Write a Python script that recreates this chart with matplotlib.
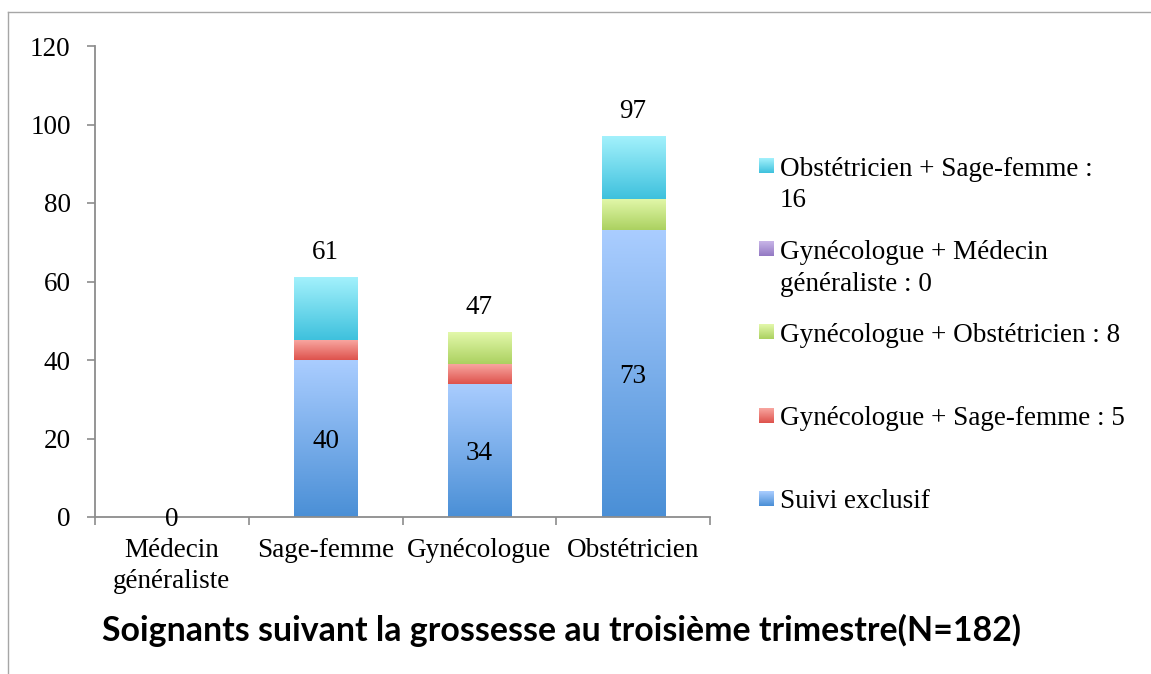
import numpy as np
import matplotlib
matplotlib.use("Agg")
import matplotlib.pyplot as plt
from matplotlib.colors import LinearSegmentedColormap
from matplotlib.lines import Line2D

plt.rcParams['font.family'] = ['Liberation Serif', 'DejaVu Serif']
plt.rcParams['font.size'] = 19.5

categories = ["Médecin\ngénéraliste", "Sage-femme", "Gynécologue", "Obstétricien"]
suivi_exclusif = [0, 40, 34, 73]
gyneco_sagefemme = [0, 5, 5, 0]
gyneco_obstetricien = [0, 0, 8, 8]
gyneco_medecin = [0, 0, 0, 0]
obstetricien_sagefemme = [0, 16, 0, 16]
series = [suivi_exclusif, gyneco_sagefemme, gyneco_obstetricien,
          gyneco_medecin, obstetricien_sagefemme]
series_names = ["Suivi exclusif",
                "Gynécologue + Sage-femme : 5",
                "Gynécologue + Obstétricien : 8",
                "Gynécologue + Médecin\ngénéraliste : 0",
                "Obstétricien + Sage-femme :\n16"]
top_colors = ["#aacdff", "#f8a6a0", "#e3f8ab", "#ccb9ea", "#a3f1fc"]
bottom_colors = ["#4a8fd6", "#de524c", "#abd160", "#9379c3", "#3ec1dd"]
title = "Soignants suivant la grossesse au troisième trimestre(N=182)"

W, H = 1151, 674
def fx(x):
    return x / W
def fy(y):
    return 1 - y / H

fig = plt.figure(figsize=(W / 100, H / 100), dpi=100)
ax = fig.add_axes([fx(95), fy(517), (710 - 95) / W, (517 - 46) / H])

x = np.arange(len(categories))
bw = 0.41
bottom = np.zeros(len(categories))
for vals, c0, c1 in zip(series, bottom_colors, top_colors):
    cmap = LinearSegmentedColormap.from_list("g", [c0, c1])
    bars = ax.bar(x, vals, bw, bottom=bottom, color='none', edgecolor='none')
    for b in bars:
        if b.get_height() <= 0:
            continue
        x0, y0 = b.get_x(), b.get_y()
        grad = np.linspace(0, 1, 256).reshape(-1, 1)
        ax.imshow(grad, extent=[x0, x0 + b.get_width(), y0, y0 + b.get_height()],
                  origin='lower', cmap=cmap, aspect='auto', zorder=2)
    bottom = bottom + np.array(vals)

totals = bottom
for xi, v in zip(x, suivi_exclusif):
    ax.text(xi, v / 2, str(v), ha='center', va='center_baseline', zorder=5)
for xi, t in zip(x, totals):
    if t > 0:
        ax.annotate(str(int(t)), (xi, t), xytext=(0, 20), textcoords='offset points',
                    ha='center', va='center_baseline')

ax.set_xlim(-0.5, len(categories) - 0.5)
ax.set_ylim(0, 120)
ax.set_yticks(np.arange(0, 121, 20))
ax.set_xticks(np.arange(-0.5, len(categories), 1))
ax.set_xticklabels([])
ax.set_xticks(x, minor=True)
ax.set_xticklabels(categories, minor=True, linespacing=1.3)
ax.tick_params(axis='x', which='minor', length=0, pad=15)
ax.tick_params(which='major', direction='out', length=5.5, width=1.2, color='#8c8c8c')
ax.tick_params(axis='y', pad=12)
for s in ['top', 'right']:
    ax.spines[s].set_visible(False)
for s in ['left', 'bottom']:
    ax.spines[s].set_color('#8c8c8c')
    ax.spines[s].set_linewidth(1.3)

# legend drawn by hand, reversed order
for i, (name, c0, c1) in enumerate(reversed(list(zip(series_names, bottom_colors, top_colors)))):
    cy = 165.5 + 83.2 * i
    cmap = LinearSegmentedColormap.from_list("g", [c0, c1])
    lax = fig.add_axes([fx(759), fy(cy + 7.5), 15 / W, 15 / H])
    lax.imshow(np.linspace(0, 1, 64).reshape(-1, 1), origin='lower', cmap=cmap, aspect='auto')
    lax.axis('off')
    for j, line in enumerate(name.split("\n")):
        fig.text(fx(780), fy(cy + 10 + 32 * j), line, va='baseline', ha='left')

fig.text(fx(562), fy(630), title, ha='center', va='center', fontsize=24.4,
         fontweight='bold', family=['Lato', 'DejaVu Sans'])

fig.add_artist(Line2D([fx(8), 1], [fy(12), fy(12)], color='#a6a6a6', lw=1))
fig.add_artist(Line2D([fx(8), fx(8)], [fy(12), 0], color='#a6a6a6', lw=1))

fig.savefig("out.png", dpi=100)
